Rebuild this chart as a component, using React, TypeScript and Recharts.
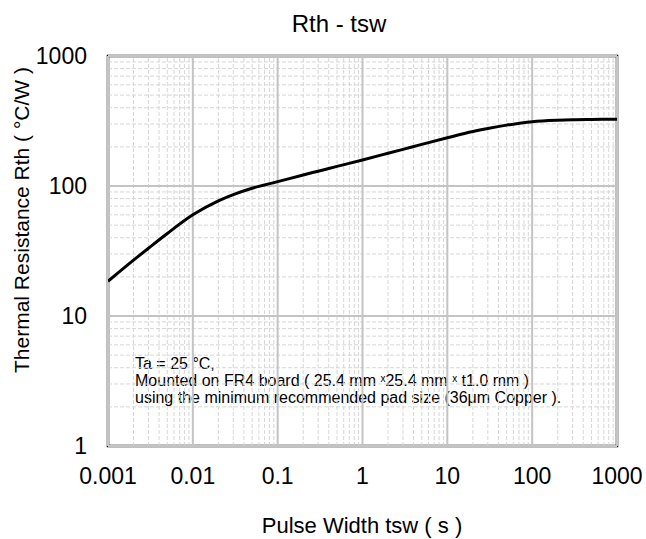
import React from "react";
import { LineChart, Line, XAxis, YAxis, ReferenceLine, ReferenceArea } from "recharts";

const pulseWidth = [0.001, 0.002, 0.003, 0.005, 0.01, 0.02, 0.03, 0.05, 0.1, 0.2, 0.3, 0.5, 1, 2, 3, 5, 10, 20, 30, 50, 100, 200, 300, 500, 1000];
const thermalResistance = [18.5, 26.9, 33.2, 43.1, 60, 76.9, 85.9, 96.1, 108, 121.6, 130, 141.5, 158.6, 178.5, 191.4, 209, 235, 262.5, 277, 294, 312.6, 321, 323.6, 325, 326.3];

const xTicks = [0.001, 0.01, 0.1, 1, 10, 100, 1000];
const yTicks = [1, 10, 100, 1000];
const minorSteps = [2, 3, 4, 5, 6, 7, 8, 9];

const noteLines = [
  "Ta = 25 \u00B0C,",
  "Mounted on FR4 board ( 25.4 mm ",
  "using the minimum recommended pad size (36\u03BCm Copper ).",
];

const data = pulseWidth.map((t, i) => ({ t, r: thermalResistance[i] }));

const xMinor = xTicks.slice(0, -1).flatMap((d) => minorSteps.map((m) => d * m));
const yMinor = yTicks.slice(0, -1).flatMap((d) => minorSteps.map((m) => d * m));

const FONT = "'Liberation Sans', Arial, Helvetica, sans-serif";

export default function App() {
  return (
    <div style={{ position: "absolute", left: 0, top: 0, width: 646, height: 539, background: "#fff" }}>
      <LineChart width={646} height={539} data={data} margin={{ top: 56, right: 29, bottom: 0, left: 0 }}>
        <XAxis
          dataKey="t"
          type="number"
          scale="log"
          domain={[0.001, 1000]}
          ticks={xTicks}
          allowDataOverflow
          tickFormatter={(v) => String(v)}
          tickLine={false}
          axisLine={false}
          tickSize={0}
          tickMargin={22}
          height={93}
          interval={0}
          tick={{ fill: "#000", fontSize: 23, fontFamily: FONT }}
        />
        <YAxis
          type="number"
          scale="log"
          domain={[1, 1000]}
          ticks={yTicks}
          allowDataOverflow
          tickFormatter={(v) => String(v)}
          tickLine={false}
          axisLine={false}
          tickSize={0}
          tickMargin={21}
          width={108}
          interval={0}
          tick={{ fill: "#000", fontSize: 23, fontFamily: FONT }}
        />
        {xMinor.map((v) => (
          <ReferenceLine key={"xm" + v} x={v} stroke="#d6d6d6" strokeWidth={1} strokeDasharray="4 2" />
        ))}
        {yMinor.map((v) => (
          <ReferenceLine key={"ym" + v} y={v} stroke="#d6d6d6" strokeWidth={1} strokeDasharray="4 2" />
        ))}
        {xTicks.map((v) => (
          <ReferenceLine key={"xM" + v} x={v} stroke="#c4c4c4" strokeWidth={2} />
        ))}
        {yTicks.map((v) => (
          <ReferenceLine key={"yM" + v} y={v} stroke="#c4c4c4" strokeWidth={2} />
        ))}
        <Line
          dataKey="r"
          type="monotone"
          stroke="#000"
          strokeWidth={3}
          dot={false}
          isAnimationActive={false}
        />
        <ReferenceArea x1={0.001} x2={1000} y1={1} y2={1000} fill="none" fillOpacity={0} stroke="#000" strokeWidth={2.5} />
        <text x={339} y={32} textAnchor="middle" fontSize={24} fontFamily={FONT} fill="#000">
          Rth - tsw
        </text>
        <text
          x={21}
          y={220}
          transform="rotate(-90, 21, 220)"
          textAnchor="middle"
          dominantBaseline="central"
          fontSize={21}
          fontFamily={FONT}
          fill="#000"
        >
          Thermal Resistance Rth ( °C/W )
        </text>
        <text x={362} y={533} textAnchor="middle" fontSize={22} fontFamily={FONT} fill="#000">
          Pulse Width tsw ( s )
        </text>
        <text x={135} y={369} fontSize={16} fontFamily={FONT} fill="#000">
          {noteLines[0]}
        </text>
        <text x={135} y={386} fontSize={16} fontFamily={FONT} fill="#000">
          {noteLines[1]}
          <tspan fontSize={10} dy={-4}>x</tspan>
          <tspan dy={4}>25.4 mm </tspan>
          <tspan fontSize={10} dy={-4}>x</tspan>
          <tspan dy={4}> t1.0 mm )</tspan>
        </text>
        <text x={135} y={403} fontSize={16} fontFamily={FONT} fill="#000">
          {noteLines[2]}
        </text>
      </LineChart>
    </div>
  );
}
